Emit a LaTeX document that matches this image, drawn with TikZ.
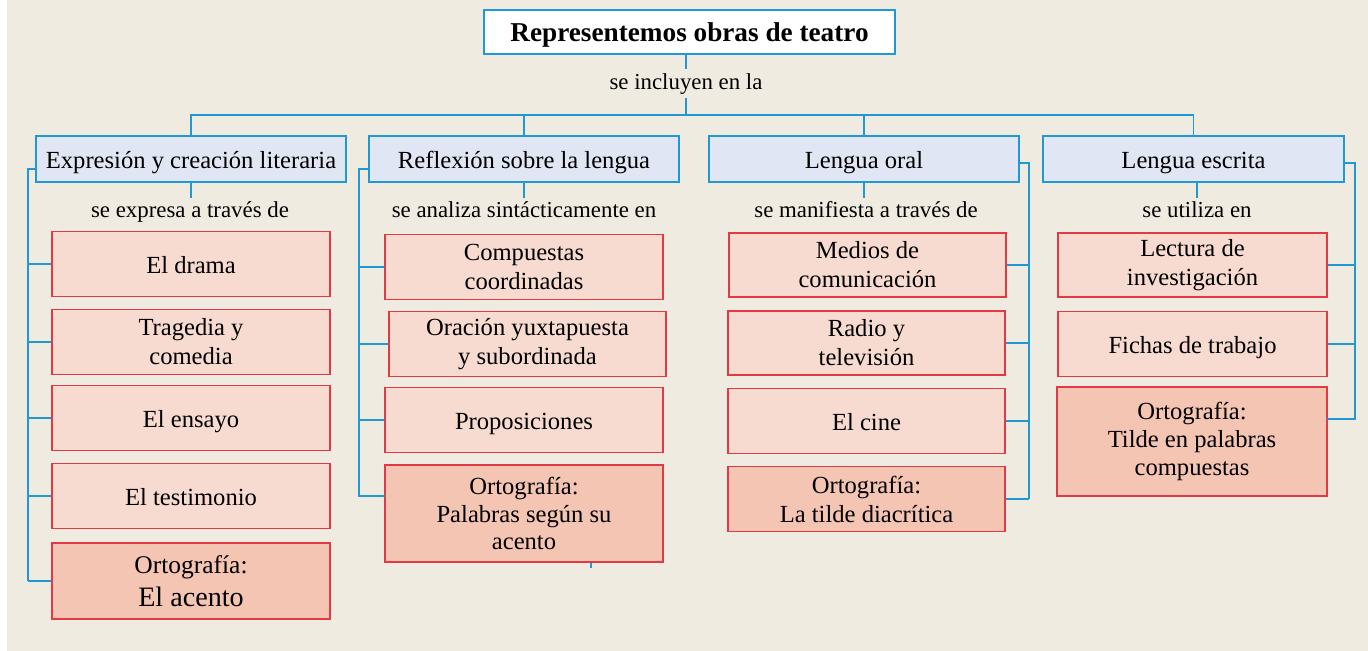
\documentclass[tikz,border=0pt]{standalone}
\usepackage{fontspec}
\setmainfont{Liberation Serif}
\usetikzlibrary{positioning}

\definecolor{paper}{RGB}{239,235,225}
\definecolor{linkblue}{RGB}{32,152,212}
\definecolor{areafill}{RGB}{225,230,245}
\definecolor{itemred}{RGB}{226,58,68}
\definecolor{itemfill}{RGB}{248,219,208}
\definecolor{rulefill}{RGB}{245,197,179}

\begin{document}
\begin{tikzpicture}[
x=0.02cm, y=-0.02cm,
one/.style={text height=14pt, text depth=3.5pt},
head/.style={rectangle, one, draw=linkblue, fill=white, line width=0.9pt, minimum width=8.22cm, minimum height=0.88cm, font=\fontsize{15.5}{18}\selectfont\bfseries},
area/.style={rectangle, one, draw=linkblue, fill=areafill, line width=0.9pt, minimum width=6.2cm, minimum height=0.92cm, font=\fontsize{14}{17}\selectfont},
item/.style={rectangle, draw=itemred, fill=itemfill, line width=0.9pt, minimum width=5.56cm, minimum height=1.3cm, align=center, font=\fontsize{14}{16.5}\selectfont},
rule/.style={item, fill=rulefill},
verb/.style={inner sep=0pt, text height=10pt, text depth=3.5pt, minimum height=0.56cm, font=\fontsize{13}{15}\selectfont},
link/.style={draw=linkblue, line width=1pt}
]

\useasboundingbox (0,0) rectangle (1368,651);
\fill[paper] (7,0) rectangle (1368,651);

% top
\node[head] (head) at (689.5,32) {Representemos obras de teatro};
\node[verb, minimum height=0.58cm] (lbl0) at (686,83.5) {se incluyen en la};

\node[area] (cat1) at (191,159) {Expresión y creación literaria};
\node[area] (cat2) at (524,159) {Reflexión sobre la lengua};
\node[area] (cat3) at (864,159) {Lengua oral};
\node[area, minimum width=6.02cm] (cat4) at (1193.5,159) {Lengua escrita};

\coordinate (bar) at (686,115);
\draw[link] (lbl0.north) -- (lbl0.north |- head.south);
\draw[link] (lbl0.south) -- (bar);
\draw[link] (cat1.north) |- (bar) -| (cat4.north);
\draw[link] (cat2.north) -- (cat2.north |- bar);
\draw[link] (cat3.north) -- (cat3.north |- bar);

\node[verb] (lbl1) at (190,212) {se expresa a través de};
\node[verb] (lbl2) at (524,212) {se analiza sintácticamente en};
\node[verb] (lbl3) at (866,212) {se manifiesta a través de};
\node[verb] (lbl4) at (1197,212) {se utiliza en};

\foreach \k in {1,2}
  \draw[link] (cat\k.south) -- (cat\k.south |- lbl\k.north);
\draw[link] (lbl3.north -| cat3.south) -- (cat3.south);
\draw[link] (lbl4.north) -- (lbl4.north |- cat4.south);

% first column
\node[item, one] (i11) at (191,264) {El drama};
\node[item] (i12) at (191,342) {Tragedia y\\comedia};
\node[item, one] (i13) at (191,418) {El ensayo};
\node[item, one] (i14) at (191,496) {El testimonio};
\node[rule, minimum height=1.52cm, font=\fontsize{14.5}{19}\selectfont] (ort1) at (191,581) {Ortografía:\\\fontsize{16}{19}\selectfont El acento};

\coordinate (b1) at (28,169);
\draw[link] (b1 -| cat1.west) -- (b1) -- (b1 |- ort1.west);
\foreach \n in {i11,i12,i13,i14,ort1}
  \draw[link] (\n.west) -- (\n.west -| b1);

% second column
\node[item] (i21) at (524,267) {Compuestas\\coordinadas};
\node[item, minimum width=5.54cm] (i22) at (527.5,344) {Oración yuxtapuesta\\y subordinada};
\node[item, one] (i23) at (524,420) {Proposiciones};
\node[rule, minimum height=1.94cm, font=\fontsize{14}{15.5}\selectfont] (ort2) at (524,513.5) {Ortografía:\\Palabras según su\\acento};

\coordinate (b2) at (359,169);
\coordinate (t2) at (385,496);
\draw[link] (b2 -| cat2.west) -- (b2) |- (t2);
\foreach \n in {i21,i22,i23}
  \draw[link] (\n.west) -- (\n.west -| b2);
\draw[link] (ort2.south) ++(67,0) -- ++(0,5);

% third column
\node[item, minimum width=5.54cm, minimum height=1.28cm] (i31) at (867.5,265) {Medios de\\comunicación};
\node[item, minimum width=5.54cm, minimum height=1.28cm] (i32) at (866.5,343) {Radio y\\televisión};
\node[item, one, minimum width=5.54cm] (i33) at (866.5,421) {El cine};
\node[rule, minimum width=5.54cm] (ort3) at (866.5,499) {Ortografía:\\La tilde diacrítica};

\coordinate (b3) at (1029,163);
\draw[link] (b3 -| cat3.east) -- (b3) -- (b3 |- ort3.east);
\foreach \n in {i31,i32,i33,ort3}
  \draw[link] (\n.east) -- (\n.east -| b3);

% fourth column
\node[item, minimum width=5.38cm, minimum height=1.28cm] (i41) at (1192.5,265) {Lectura de\\investigación};
\node[item, one, minimum width=5.38cm] (i42) at (1192.5,344) {Fichas de trabajo};
\node[rule, minimum width=5.4cm, minimum height=2.18cm, font=\fontsize{14}{16}\selectfont] (ort4) at (1192,441.5) {Ortografía:\\Tilde en palabras\\compuestas};

\coordinate (b4) at (1355,163);
\coordinate (t4) at (1327,419);
\draw[link] (b4 -| cat4.east) -- (b4) |- (t4);
\foreach \n in {i41,i42}
  \draw[link] (\n.east) -- (\n.east -| b4);

\end{tikzpicture}
\end{document}
